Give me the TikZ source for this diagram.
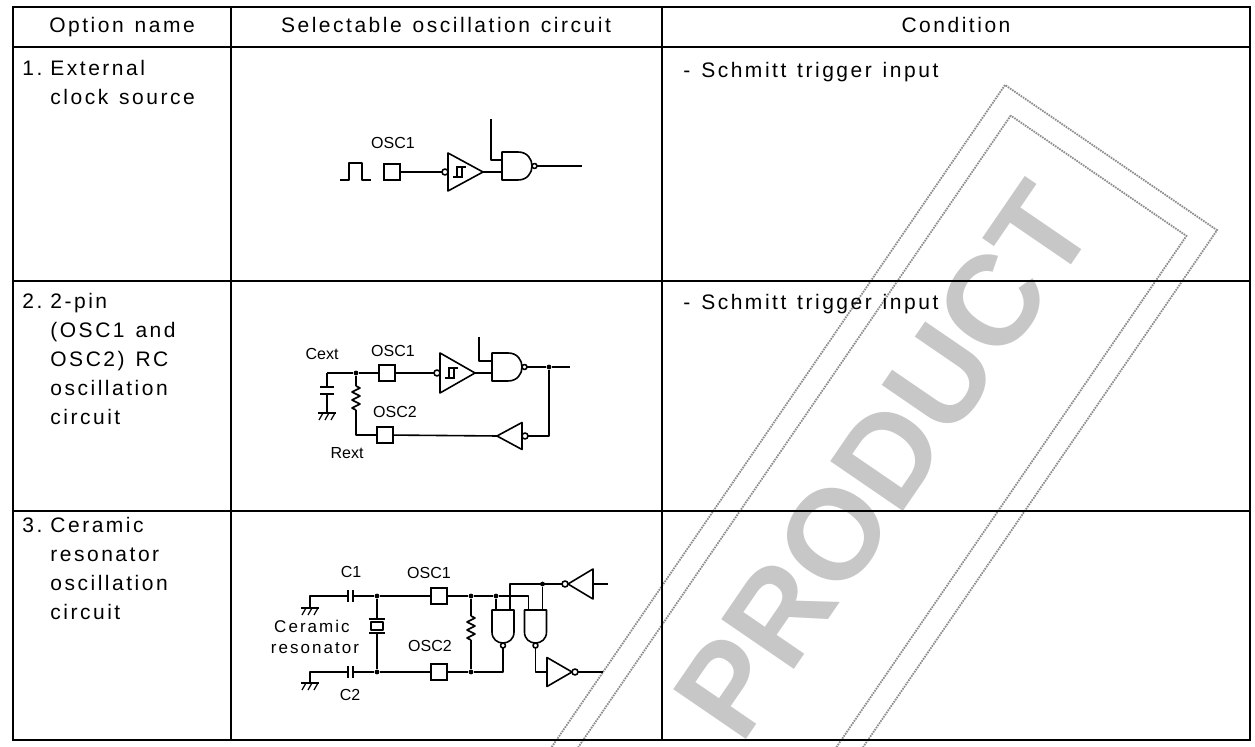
\documentclass[tikz,border=0pt]{standalone}
\usepackage{fontspec}
\setmainfont{Liberation Sans}
\newfontfamily\tabfont[LetterSpace=12,WordSpace=1.3]{Liberation Sans}
\newfontfamily\stampfont{Liberation Sans}

\tikzset{
    rule/.style={line width=1pt},
    wire/.style={line width=0.8pt, line join=round},
    head/.style={anchor=base, inner sep=0pt, font=\tabfont\fontsize{10.5}{12}\selectfont},
    cell/.style={anchor=base west, inner sep=0pt, font=\tabfont\fontsize{10.5}{12}\selectfont},
    lbl/.style={inner sep=0pt, font=\fontsize{8}{9}\selectfont},
    note/.style={inner sep=0pt, font=\tabfont\fontsize{8.5}{10}\selectfont},
    pad/.style={draw, line width=0.8pt, minimum size=8pt, inner sep=0pt},
    dot/.style={circle, fill, inner sep=0pt, minimum size=2.4pt},
    stamp/.style={draw=black!45, line width=0.9pt, dash pattern=on 0.8pt off 0.5pt},
    stampword/.style={inner sep=0pt, text=black!22, font=\stampfont\bfseries\fontsize{64}{64}\selectfont},
    % half width / straight part / input offset
    pics/nandgate/.style args={#1/#2/#3}{code={
        \draw[wire] (0,-#1) -- (#2,-#1) .. controls ({#2+1.333*#1},-#1) and ({#2+1.333*#1},#1) .. (#2,#1) -- (0,#1) -- cycle;
        \draw[wire] ({#2+#1+2.5},0) circle[radius=2.5];
        \coordinate (-in1) at (0,-#3);
        \coordinate (-in2) at (0,#3);
        \coordinate (-out) at ({#2+#1+5},0);
    }},
    % length / half height, bubble on the input
    pics/bufinv/.style args={#1/#2}{code={
        \draw[wire] (3,0) circle[radius=3];
        \draw[wire] (6,-#2) -- ({6+#1},0) -- (6,#2) -- cycle;
        \coordinate (-in) at (0,0);
        \coordinate (-out) at ({6+#1},0);
    }},
    pics/schmittbuf/.style args={#1/#2}{code={
        \draw[wire] (3,0) circle[radius=3];
        \draw[wire] (6,-#2) -- ({6+#1},0) -- (6,#2) -- cycle;
        \draw[line width=0.6pt] (11,5) -- (20,5) -- (20,-5) (15,5) -- (15,-5) -- (24,-5);
        \coordinate (-in) at (0,0);
        \coordinate (-out) at ({6+#1},0);
    }},
    % length / half height, bubble on the output
    pics/notgate/.style args={#1/#2}{code={
        \draw[wire] (0,-#2) -- (#1,0) -- (0,#2) -- cycle;
        \draw[wire] ({#1+3},0) circle[radius=3];
        \coordinate (-in) at (0,0);
        \coordinate (-out) at ({#1+6},0);
    }},
    pics/capa/.style args={#1/#2}{code={
        \draw[wire] (0,-#2) -- (0,#2) (#1,-#2) -- (#1,#2);
        \coordinate (-a) at (0,0);
        \coordinate (-b) at (#1,0);
    }},
    pics/resv/.style={code={
        \draw[wire] (0,0) -- (4,2) -- (-4,6) -- (4,10) -- (-4,14) -- (4,18) -- (-4,22) -- (0,24);
        \coordinate (-a) at (0,0);
        \coordinate (-b) at (0,24);
    }},
    pics/xtal/.style={code={
        \draw[wire] (-8,0) -- (8,0) (-8,14) -- (8,14);
        \draw[wire] (-6,3) rectangle (6,11);
        \coordinate (-a) at (0,0);
        \coordinate (-b) at (0,14);
    }},
    pics/gnd/.style={code={
        \draw[wire] (-9,0) -- (9,0);
        \foreach \d in {-6,0,6} \draw[line width=0.6pt] ({\d+2},0) -- ({\d-2},7);
        \coordinate (-top) at (0,0);
    }},
}

\begin{document}
\begin{tikzpicture}[x=0.5pt, y=-0.5pt]
    \fill[white] (0,0) rectangle (1255,747);
    \useasboundingbox (0,0) rectangle (1255,747);

    % stamp
    \begin{scope}
        \clip (0,0) rectangle (1255,747);
        \begin{scope}[shift={(1005,85)}, rotate=-34.4]
            \draw[stamp] (0,0) rectangle (257,900) (22,22) rectangle (235,878);
        \end{scope}
        \node[stampword, rotate=55.6] (word) at (884,461) {PRODUCT};
    \end{scope}

    % table
    \draw[rule] (13,7) rectangle (1250,740);
    \draw[rule] (13,47) -- (1250,47) (13,281) -- (1250,281) (13,511) -- (1250,511);
    \draw[rule] (231,7) -- (231,740) (662,7) -- (662,740);

    \node[head] (h1) at (122,33) {Option name};
    \node[head] (h2) at (446,33) {Selectable oscillation circuit};
    \node[head] (h3) at (956,33) {Condition};

    \foreach \n/\y/\lines in {1/76/{External,clock source},
                              2/309/{2-pin,{(OSC1 and},{OSC2) RC},oscillation,circuit},
                              3/533/{Ceramic,resonator,oscillation,circuit}} {
        \node[cell] (num\n) at (22,\y) {\n.};
        \foreach \t [count=\i from 0] in \lines
            \node[cell] (opt\n-\i) at (50,\y+29*\i) {\t};
    }
    \node[cell] (cond1) at (683,78) {- Schmitt trigger input};
    \node[cell] (cond2) at (683,310) {- Schmitt trigger input};

    % 1. external clock
    \draw[wire] (340,180) -- (349,180) -- (349,163) -- (362,163) -- (362,180) -- (371,180);
    \node[pad] (pa1) at (392,172) {};
    \node[lbl] (la1) at (393,143) {OSC1};
    \pic (sa) at (442,172) {schmittbuf=35/19};
    \pic (ga) at (502,166) {nandgate=14/16/6};
    \coordinate (ta) at (491,119);
    \coordinate (qa) at (582,166);
    \draw[wire] (pa1) -- (sa-in);
    \draw[wire] (sa-out) -- (ga-in2);
    \draw[wire] (ta) |- (ga-in1);
    \draw[wire] (ga-out) -- (qa);

    % 2. RC oscillator
    \node[pad] (pb1) at (387,373) {};
    \node[pad] (pb2) at (385,435) {};
    \node[dot] (db1) at (356,373) {};
    \node[dot] (db2) at (549,367) {};
    \coordinate (cb) at (327,373);
    \pic[rotate=-90] (kb) at (327,387) {capa=7/7};
    \pic (gndb) at (327,413) {gnd};
    \pic (rb) at (356,386) {resv};
    \pic (sb) at (434,373) {schmittbuf=35/20};
    \pic (gb) at (492,367) {nandgate=14/16/6};
    \pic[rotate=180] (ib) at (528,436) {bufinv=25/13.5};
    \coordinate (tb) at (479,337);
    \coordinate (qb) at (570,367);
    \draw[wire] (cb) -- (db1) -- (pb1) -- (sb-in);
    \draw[wire] (cb) -- (kb-a) (kb-b) -- (gndb-top);
    \draw[wire] (db1) -- (rb-a) (rb-b) |- (pb2);
    \draw[wire] (sb-out) -- (gb-in2);
    \draw[wire] (tb) |- (gb-in1);
    \draw[wire] (gb-out) -- (db2) -- (qb);
    \draw[wire] (db2) |- (ib-in);
    \draw[wire] (ib-out) -- (pb2);
    \node[lbl] (lb1) at (322,354) {Cext};
    \node[lbl] (lb2) at (393,351) {OSC1};
    \node[lbl] (lb3) at (395,412) {OSC2};
    \node[lbl] (lb4) at (347,453) {Rext};

    % 3. ceramic resonator
    \coordinate (gc1) at (310,596);
    \coordinate (gc2) at (310,672);
    \pic (gndc1) at (310,608) {gnd};
    \pic (gndc2) at (310,683) {gnd};
    \pic (kc1) at (348,596) {capa=5/6};
    \pic (kc2) at (348,672) {capa=5/6};
    \node[dot] (dc1) at (377,596) {};
    \node[dot] (dc2) at (377,672) {};
    \pic (xc) at (377,619) {xtal};
    \node[pad] (pc1) at (439,596) {};
    \node[pad] (pc2) at (439,672) {};
    \node[dot] (dc3) at (471,596) {};
    \node[dot] (dc4) at (471,672) {};
    \pic (rc) at (471,616) {resv};
    \node[dot] (dc5) at (496,596) {};
    \pic[rotate=-90] (nc1) at (503,610) {nandgate=11/22/7};
    \pic[rotate=-90] (nc2) at (535.5,610) {nandgate=11/22/7};
    \node[dot] (dc6) at (542.5,584) {};
    \pic[rotate=180] (ic1) at (593,584) {notgate=25/15};
    \coordinate (tc) at (608,584);
    \pic (ic2) at (547,672) {notgate=25/14.5};
    \coordinate (qc) at (603,672);
    \draw[wire] (gndc1-top) -- (gc1) -- (kc1-a) (kc1-b) -- (dc1) -- (pc1);
    \draw[wire] (gndc2-top) -- (gc2) -- (kc2-a) (kc2-b) -- (dc2) -- (pc2);
    \draw[wire] (dc1) -- (xc-a) (xc-b) -- (dc2);
    \draw[wire] (pc1) -- (dc3) -- (dc5) -| (nc2-in2);
    \draw[wire] (dc5) -- (nc1-in2);
    \draw[wire] (dc3) -- (rc-a) (rc-b) -- (dc4);
    \draw[wire] (pc2) -- (dc4) -| (nc1-out);
    \draw[wire] (nc1-in1) |- (ic1-out);
    \draw[wire] (dc6) -- (nc2-in1);
    \draw[wire] (tc) -- (ic1-in);
    \draw[wire] (nc2-out) |- (ic2-in);
    \draw[wire] (ic2-out) -- (qc);
    \node[lbl] (lc1) at (351,572) {C1};
    \node[lbl] (lc2) at (429,573) {OSC1};
    \node[lbl] (lc3) at (430,646) {OSC2};
    \node[lbl] (lc4) at (350,695) {C2};
    \node[note] (lc5) at (312,626) {Ceramic};
    \node[note] (lc6) at (315,648) {resonator};
\end{tikzpicture}
\end{document}
